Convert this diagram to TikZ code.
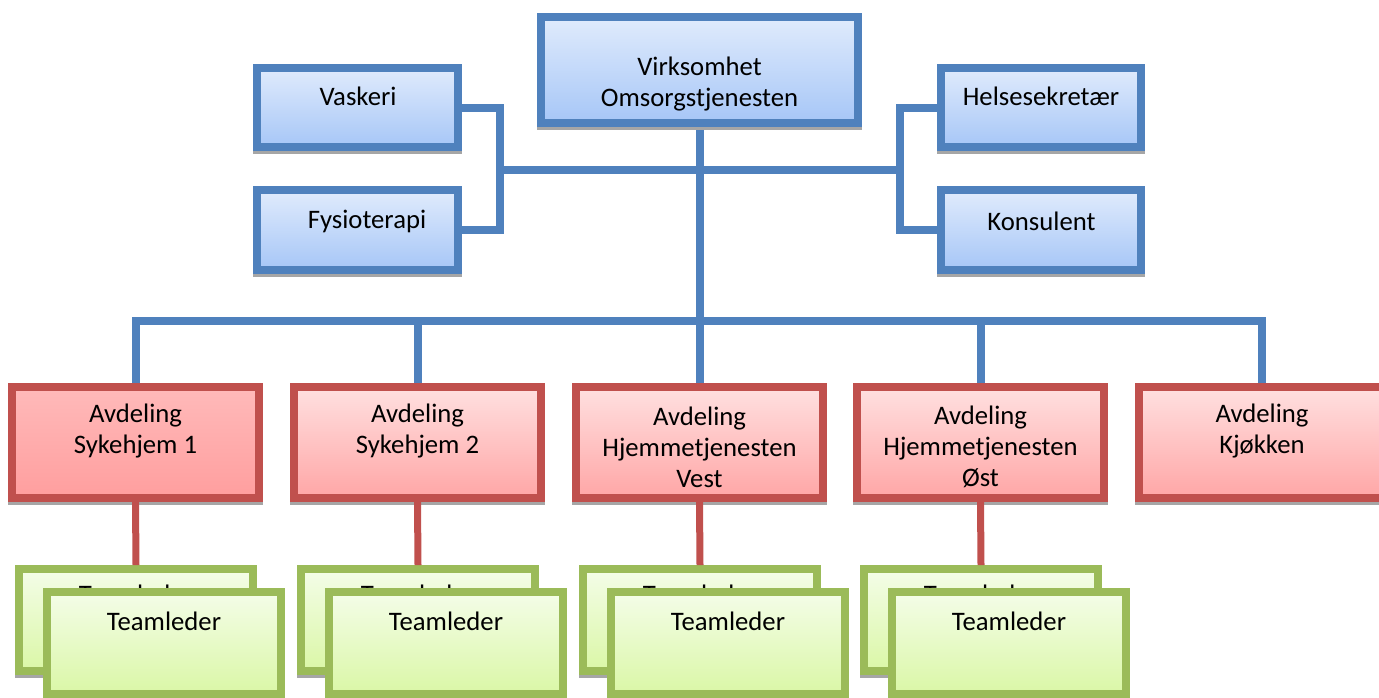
\documentclass[tikz,border=0pt]{standalone}
\usepackage{fontspec}
\setmainfont{Carlito}
\usetikzlibrary{shadows}
\definecolor{bbord}{HTML}{4F81BD}
\definecolor{btop}{HTML}{E0EBFC}
\definecolor{bbot}{HTML}{A6C6F7}
\definecolor{rbord}{HTML}{C0504D}
\definecolor{rtop}{HTML}{FFE0E0}
\definecolor{rbot}{HTML}{FFA6A6}
\definecolor{rtopd}{HTML}{FFBABA}
\definecolor{rbotd}{HTML}{FF9E9E}
\definecolor{gbord}{HTML}{9BBB59}
\definecolor{gtop}{HTML}{F4FDE8}
\definecolor{gbot}{HTML}{DAF7A6}
\definecolor{shgray}{HTML}{A6A6A6}
\begin{document}
\begin{tikzpicture}[x=0.02cm,y=-0.02cm,
  boxbase/.style={rectangle, inner sep=0pt, line width=0.16cm,
    drop shadow={shadow xshift=0cm, shadow yshift=-0.06cm, fill=shgray, draw=shgray, line width=0.16cm, opacity=1}},
  bbox/.style={boxbase, draw=bbord, top color=btop, bottom color=bbot},
  rbox/.style={boxbase, draw=rbord, top color=rtop, bottom color=rbot, minimum width=4.94cm, minimum height=2.22cm},
  rboxd/.style={rbox, top color=rtopd, bottom color=rbotd},
  gbox/.style={boxbase, draw=gbord, top color=gtop, bottom color=gbot, minimum width=4.68cm, minimum height=2.04cm},
  sbox/.style={bbox, minimum width=4.02cm, minimum height=1.6cm},
  txt/.style={inner sep=0pt, align=center, font=\fontsize{15.2}{17.6}\selectfont},
  conn/.style={draw=bbord, line width=0.16cm},
  connsh/.style={conn, preaction={draw=shgray, transform canvas={yshift=-0.06cm}}},
  rconn/.style={draw=rbord, line width=0.14cm}]
\useasboundingbox (0,0) rectangle (1379,697);

% box placement
\path
  (699.5,70) node[bbox, minimum width=6.34cm, minimum height=2.12cm] (top) {}
  (357.5,107.5) node[sbox] (vask) {}
  (357.5,230) node[sbox] (fys) {}
  (1041,107.5) node[sbox] (hel) {}
  (1041,230) node[sbox] (kon) {}
  (135.5,442.5) node[rboxd] (s1) {}
  (417.5,442.5) node[rbox] (s2) {}
  (699.5,442.5) node[rbox] (hv) {}
  (980.5,442.5) node[rbox] (ho) {}
  (1262,442.5) node[rbox] (kj) {};

\coordinate (lb) at (500,170);
\coordinate (rb) at (900,170);
\coordinate (bus) at (699,321);

% connectors (drawn first, boxes redrawn on top)
\draw[connsh] (lb) -- (rb);
\draw[connsh] (vask.east) -| (lb) |- (fys.east);
\draw[connsh] (hel.west) -| (rb) |- (kon.west);
\draw[connsh] (s1.north) -- (s1.north |- bus) -- (kj.north |- bus) -- (kj.north);
\draw[conn] (s2.north) -- (s2.north |- bus);
\draw[conn] (ho.north) -- (ho.north |- bus);
\draw[conn] (top.south) -- (hv.north);

% green boxes (back)
\path
  (136,620) node[gbox] (t1b) {}
  (418,620) node[gbox] (t2b) {}
  (700,620) node[gbox] (t3b) {}
  (981,620) node[gbox] (t4b) {};
\node[txt] (t1bt) at (136,594) {Teamleder};
\node[txt] (t2bt) at (418,594) {Teamleder};
\node[txt] (t3bt) at (700,594) {Teamleder};
\node[txt] (t4bt) at (981,594) {Teamleder};

% green boxes (front)
\path
  (164,643) node[gbox] (t1f) {}
  (446,643) node[gbox] (t2f) {}
  (728,643) node[gbox] (t3f) {}
  (1009,643) node[gbox] (t4f) {};
\node[txt] (t1ft) at (164,621) {Teamleder};
\node[txt] (t2ft) at (446,621) {Teamleder};
\node[txt] (t3ft) at (728,621) {Teamleder};
\node[txt] (t4ft) at (1009,621) {Teamleder};

% redraw upper boxes above connector ends
\path
  (699.5,70) node[bbox, minimum width=6.34cm, minimum height=2.12cm] (topb) {}
  (357.5,107.5) node[sbox] (vaskb) {}
  (357.5,230) node[sbox] (fysb) {}
  (1041,107.5) node[sbox] (helb) {}
  (1041,230) node[sbox] (konb) {}
  (135.5,442.5) node[rboxd] (s1b) {}
  (417.5,442.5) node[rbox] (s2b) {}
  (699.5,442.5) node[rbox] (hvb) {}
  (980.5,442.5) node[rbox] (hob) {}
  (1262,442.5) node[rbox] (kjb) {};

% red connectors on top of the shadows
\draw[rconn] (s1.south) -- (t1b.north);
\draw[rconn] (s2.south) -- (t2b.north);
\draw[rconn] (hv.south) -- (t3b.north);
\draw[rconn] (ho.south) -- (t4b.north);

% texts
\node[txt] (topt) at (699.5,84) {Virksomhet\\Omsorgstjenesten};
\node[txt] (vaskt) at (358,96) {Vaskeri};
\node[txt] (fyst) at (367,221) {Fysioterapi};
\node[txt] (helt) at (1041,96) {Helsesekretær};
\node[txt] (kont) at (1041.5,221) {Konsulent};
\node[txt] (s1t) at (135.5,431) {Avdeling\\Sykehjem 1};
\node[txt] (s2t) at (417.5,431) {Avdeling\\Sykehjem 2};
\node[txt] (hvt) at (699.5,447) {Avdeling\\Hjemmetjenesten\\Vest};
\node[txt] (hot) at (980.5,447) {Avdeling\\Hjemmetjenesten\\Øst};
\node[txt] (kjt) at (1262,431) {Avdeling\\Kjøkken};
\end{tikzpicture}
\end{document}
